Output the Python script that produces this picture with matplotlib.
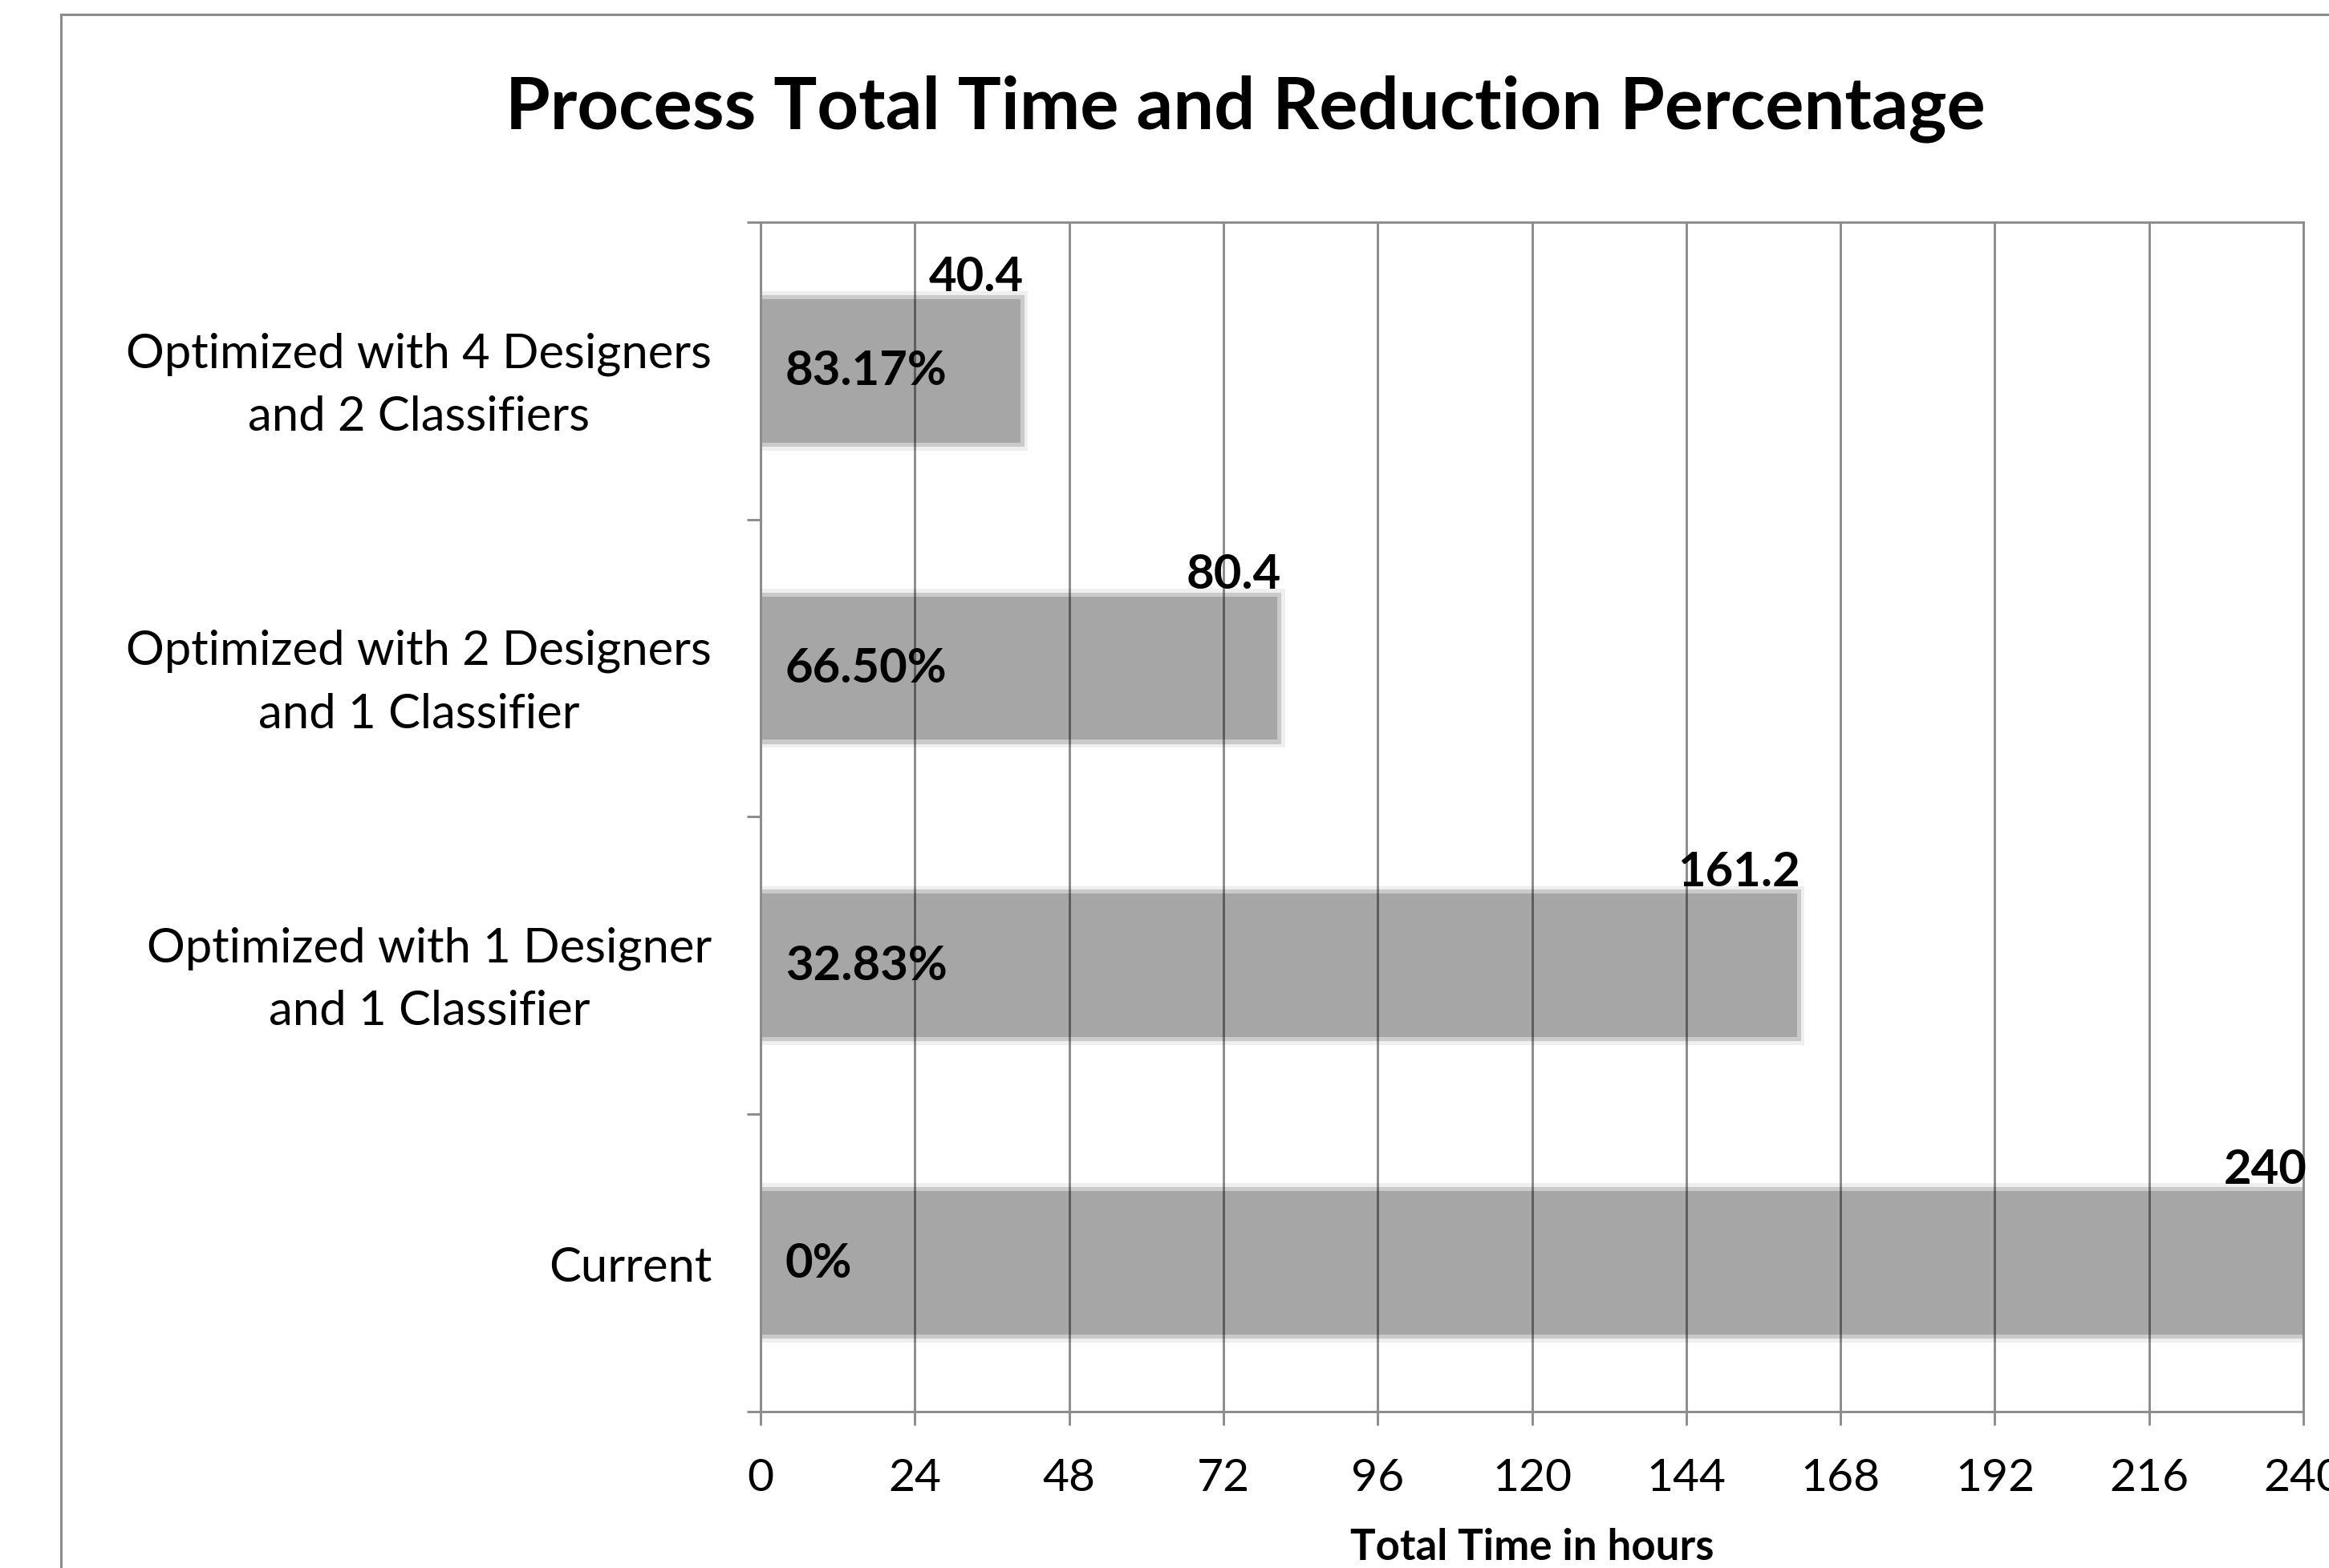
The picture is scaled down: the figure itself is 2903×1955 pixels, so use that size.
import matplotlib
matplotlib.use("Agg")
import matplotlib.pyplot as plt
from matplotlib.lines import Line2D
from matplotlib.ticker import MultipleLocator

plt.rcParams["font.family"] = ["Lato", "DejaVu Sans"]

# data (bottom to top, as drawn)
categories = [
    "Current",
    "Optimized with 1 Designer\nand 1 Classifier",
    "Optimized with 2 Designers\nand 1 Classifier",
    "Optimized with 4 Designers\nand 2 Classifiers",
]
total_hours = [240, 161.2, 80.4, 40.4]
value_labels = ["240", "161.2", "80.4", "40.4"]
reduction_labels = ["0%", "32.83%", "66.50%", "83.17%"]
x_ticks = [0, 24, 48, 72, 96, 120, 144, 168, 192, 216, 240]

GRID = "#8C8C8C"
BAR = "#A6A6A6"

fig = plt.figure(figsize=(29.03, 19.56), dpi=100)
ax = fig.add_axes([0.3266, 0.0997, 0.9890 - 0.3266, 0.8579 - 0.0997])

ypos = list(range(len(categories)))

# soft glow around the bars, then the bar itself
ax.barh(ypos, [v + 1.2 for v in total_hours], height=0.535, color="#EFEFEF", zorder=1)
ax.barh(ypos, [v + 0.6 for v in total_hours], height=0.51, color="#CACACA", zorder=1.5)
ax.barh(ypos, total_hours, height=0.482, color=BAR, zorder=2)

ax.set_xlim(0, 240)
ax.set_ylim(-0.5, len(categories) - 0.5)
ax.set_xticks(x_ticks)
ax.set_xticklabels([str(t) for t in x_ticks])
ax.set_yticks(ypos)
ax.set_yticklabels(categories, multialignment="center", linespacing=1.55)
ax.yaxis.set_minor_locator(MultipleLocator(1, offset=0.5))

ax.xaxis.grid(True, color="black", alpha=0.45, linewidth=2.1, zorder=3)
ax.set_axisbelow(False)

for sp in ax.spines.values():
    sp.set_color(GRID)
    sp.set_linewidth(2.1)
    sp.set_zorder(4)

ax.tick_params(axis="x", which="major", length=12, width=2.1, color=GRID,
               labelsize=41, pad=29, direction="out")
ax.tick_params(axis="y", which="major", length=0, labelsize=43, pad=44)
ax.tick_params(axis="y", which="minor", length=12, width=2.1, color=GRID,
               direction="out")

for i, (v, vl, rl) in enumerate(zip(total_hours, value_labels, reduction_labels)):
    ax.annotate(vl, xy=(v, i + 0.27), xytext=(3, 0), textcoords="offset points",
                ha="right", va="baseline", fontsize=43, fontweight="bold",
                zorder=6, annotation_clip=False)
    ax.annotate(rl, xy=(0, i), xytext=(22, 0), textcoords="offset points",
                ha="left", va="center", fontsize=43, fontweight="bold", zorder=6)

ax.set_xlabel("Total Time in hours", fontsize=38, fontweight="bold")
ax.xaxis.label.set_va("baseline")
ax.xaxis.set_label_coords(0.5, -0.124)

fig.text(0.5346, 1 - 160 / 1956, "Process Total Time and Reduction Percentage",
         ha="center", va="baseline", fontsize=65, fontweight="bold")

# outer chart frame (left and top edges visible)
fx = 76 / 2903
fy = 1 - 19 / 1956
fig.add_artist(Line2D([fx, fx], [0, fy], color=GRID, linewidth=2.2))
fig.add_artist(Line2D([fx, 1], [fy, fy], color=GRID, linewidth=2.2))

fig.savefig("out.png", dpi=100)
